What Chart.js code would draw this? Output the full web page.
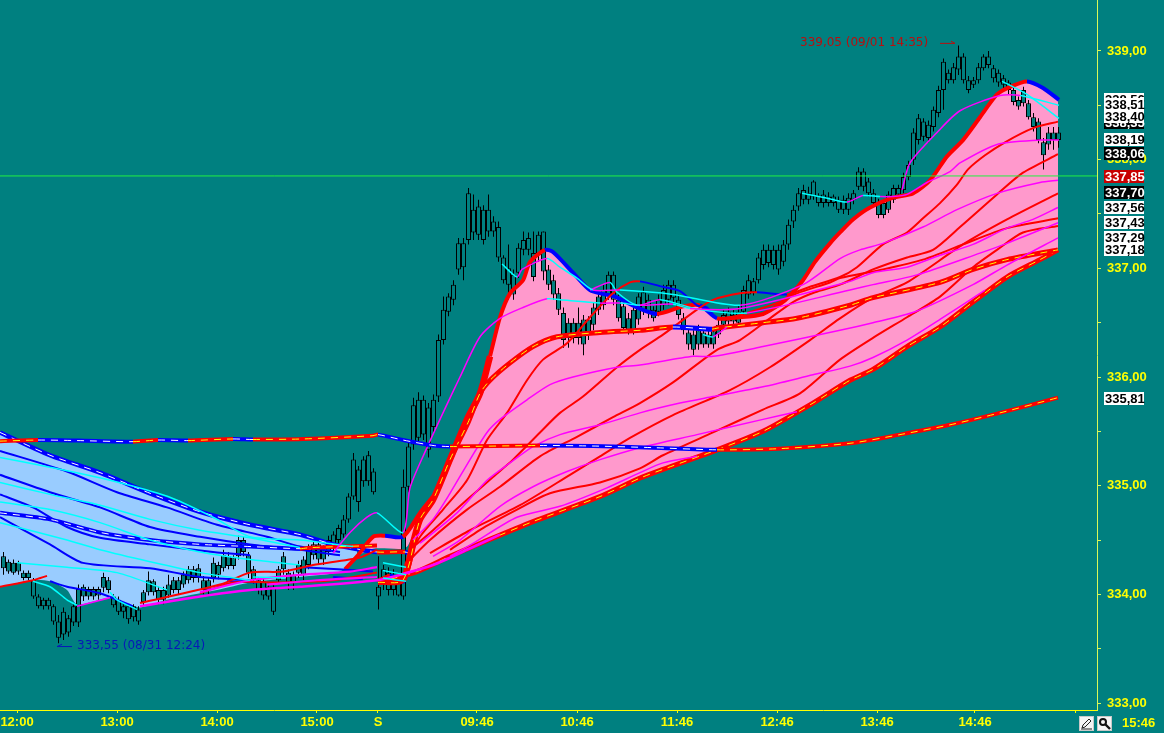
<!DOCTYPE html>
<html>
<head>
<meta charset="utf-8">
<title>Chart</title>
<script src="https://cdn.jsdelivr.net/npm/chart.js@4"></script>
<style>
  html, body { margin: 0; padding: 0; background: #008080; overflow: hidden; }
  #wrap { position: relative; width: 1164px; height: 733px; }
  .tool { position: absolute; top: 716px; width: 15px; height: 15px; background: #f4f4f4; border: 1px solid #c8c8c8; box-sizing: border-box; }
  .tool svg { display: block; }
</style>
</head>
<body>
<div id="wrap">
  <canvas id="chart" width="1164" height="733"></canvas>
  <div class="tool" style="left:1079px"><svg width="13" height="13" viewBox="0 0 13 13"><path d="M2 11 L3 8 L9 2 L11 4 L5 10 Z M1 12 H12" fill="none" stroke="#222" stroke-width="1"/></svg></div>
  <div class="tool" style="left:1097px"><svg width="13" height="13" viewBox="0 0 13 13"><circle cx="5" cy="5" r="3" fill="none" stroke="#111" stroke-width="2"/><path d="M7.5 7.5 L12 12" stroke="#111" stroke-width="2.4"/></svg></div>
</div>
<script>
// 3-minute bars, index 0 = first bar at the left edge
const bodyHigh = [
  334.35,334.30,334.29,334.29,334.20,334.20,334.13,333.98,333.95,333.95,
  333.89,333.75,333.84,333.78,333.89,334.05,334.07,334.05,334.05,334.05,
  334.16,334.13,333.98,333.95,333.89,333.89,333.89,333.86,334.02,334.13,
  334.12,334.04,334.04,334.09,334.13,334.13,334.18,334.23,334.23,334.24,
  334.13,334.13,334.29,334.27,334.36,334.35,334.34,334.50,334.50,334.36,
  334.23,334.13,334.12,334.07,334.07,334.23,334.35,334.20,334.18,334.27,
  334.32,334.41,334.46,334.46,334.41,334.50,334.55,334.61,334.69,334.90,
  335.24,335.15,335.24,335.28,335.13,334.07,334.23,334.20,334.18,334.15,
  334.99,335.36,335.74,335.79,335.79,335.72,335.79,336.34,336.62,336.74,
  336.85,337.23,337.23,337.69,337.54,337.57,337.54,337.54,337.43,337.38,
  337.10,337.00,336.94,337.19,337.26,337.28,337.14,337.31,337.34,336.99,
  336.89,336.77,336.59,336.50,336.50,336.50,336.53,336.53,336.64,336.74,
  336.80,336.94,336.94,336.71,336.65,336.54,336.62,336.74,336.78,336.71,
  336.62,336.71,336.80,336.85,336.85,336.71,336.54,336.41,336.39,336.43,
  336.41,336.39,336.42,336.48,336.57,336.60,336.57,336.60,336.80,336.89,
  336.88,337.10,337.17,337.17,337.17,337.17,337.22,337.40,337.54,337.69,
  337.72,337.69,337.80,337.67,337.68,337.66,337.66,337.63,337.63,337.65,
  337.69,337.89,337.89,337.80,337.69,337.60,337.60,337.68,337.74,337.74,
  337.84,337.95,338.25,338.38,338.35,338.32,338.46,338.64,338.90,338.80,
  338.85,338.95,338.95,338.73,338.73,338.85,338.95,338.95,338.84,338.80,
  338.75,338.71,338.64,338.55,338.64,338.52,338.39,338.35,338.16,338.25,338.25,338.25
];
const bodyLow = [
  334.24,334.21,334.20,334.21,334.15,334.15,333.98,333.89,333.89,333.89,
  333.75,333.60,333.63,333.65,333.74,333.74,333.98,333.98,333.98,333.99,
  334.06,334.04,333.90,333.84,333.84,333.77,333.79,333.75,333.93,334.02,
  334.02,333.95,333.95,333.99,334.04,334.04,334.09,334.13,334.15,334.15,
  334.04,334.04,334.15,334.18,334.24,334.26,334.26,334.35,334.39,334.20,
  334.13,334.04,333.99,333.98,333.84,334.13,334.23,334.11,334.11,334.20,
  334.18,334.27,334.36,334.32,334.32,334.39,334.43,334.50,334.55,334.69,
  334.90,334.85,335.04,335.04,334.94,333.98,334.09,334.04,334.04,333.99,
  333.98,334.99,335.38,335.44,335.47,335.33,335.54,335.82,336.34,336.60,
  336.71,336.99,337.01,337.26,337.33,337.31,337.26,337.34,337.34,337.10,
  336.89,336.85,336.76,336.96,337.17,337.17,336.92,337.12,336.97,336.85,
  336.76,336.62,336.34,336.36,336.36,336.36,336.30,336.39,336.48,336.62,
  336.66,336.76,336.71,336.54,336.45,336.43,336.43,336.53,336.62,336.59,
  336.54,336.60,336.66,336.71,336.73,336.57,336.43,336.30,336.25,336.30,
  336.30,336.30,336.30,336.39,336.48,336.51,336.51,336.50,336.60,336.76,
  336.78,336.89,337.03,337.05,337.03,336.99,337.06,337.22,337.43,337.57,
  337.63,337.63,337.66,337.60,337.60,337.60,337.60,337.54,337.54,337.54,
  337.63,337.75,337.75,337.69,337.60,337.49,337.49,337.54,337.63,337.68,
  337.72,337.84,338.00,338.18,338.21,338.20,338.30,338.43,338.64,338.73,
  338.73,338.83,338.73,338.64,338.69,338.73,338.84,338.87,338.75,338.71,
  338.69,338.64,338.53,338.49,338.52,338.39,338.30,338.18,338.04,338.14,338.18,338.18
];
const barHigh = [
  334.39,334.32,334.32,334.31,334.22,334.22,334.15,334.00,333.97,333.97,
  333.91,333.81,333.88,333.81,333.91,334.09,334.09,334.07,334.07,334.07,
  334.20,334.16,334.00,333.98,333.91,333.91,333.91,333.89,334.04,334.21,
  334.14,334.07,334.07,334.18,334.16,334.16,334.21,334.26,334.26,334.28,
  334.17,334.16,334.34,334.30,334.41,334.39,334.36,334.54,334.53,334.39,
  334.26,334.16,334.15,334.10,334.10,334.26,334.39,334.23,334.21,334.31,
  334.35,334.46,334.49,334.49,334.45,334.54,334.58,334.64,334.73,334.93,
  335.30,335.18,335.27,335.32,335.16,334.35,334.27,334.25,334.23,334.20,
  335.15,335.42,335.81,335.86,335.83,335.76,335.84,336.39,336.74,336.77,
  336.89,337.28,337.28,337.74,337.68,337.63,337.58,337.68,337.48,337.43,
  337.12,337.22,336.99,337.23,337.34,337.33,337.34,337.34,337.34,337.03,
  336.94,336.82,336.64,336.54,336.54,336.64,336.57,336.56,336.68,336.78,
  336.85,336.97,336.97,336.76,336.69,336.59,336.66,336.77,336.83,336.76,
  336.65,336.76,336.85,336.89,336.89,336.76,336.59,336.45,336.43,336.48,
  336.44,336.43,336.45,336.53,336.62,336.64,336.62,336.65,336.84,336.94,
  336.91,337.14,337.22,337.22,337.21,337.22,337.26,337.45,337.58,337.74,
  337.77,337.75,337.81,337.69,337.72,337.70,337.68,337.66,337.67,337.69,
  337.72,337.93,337.92,337.83,337.73,337.64,337.63,337.71,337.77,337.77,
  337.88,337.99,338.29,338.42,338.38,338.36,338.49,338.68,338.93,338.83,
  338.89,339.05,338.98,338.77,338.76,338.89,338.97,339.00,338.87,338.83,
  338.78,338.73,338.67,338.58,338.67,338.55,338.43,338.38,338.20,338.30,338.30,338.30
];
const barLow = [
  334.18,334.19,334.18,334.18,334.13,334.13,333.96,333.87,333.86,333.86,
  333.72,333.55,333.58,333.61,333.71,333.70,333.94,333.95,333.95,333.95,
  334.02,334.01,333.88,333.81,333.78,333.73,333.75,333.72,333.89,333.99,
  333.99,333.91,333.91,333.97,334.01,334.00,334.06,334.10,334.11,334.11,
  334.00,334.00,334.11,334.14,334.21,334.23,334.23,334.32,334.35,334.15,
  334.10,334.00,333.95,333.95,333.81,334.10,334.18,334.04,334.04,334.15,
  334.13,334.23,334.32,334.27,334.27,334.35,334.39,334.47,334.52,334.66,
  334.87,334.76,334.99,335.00,334.92,333.86,334.04,333.99,333.99,333.98,
  333.95,334.94,335.33,335.38,335.42,335.26,335.49,335.77,336.30,336.56,
  336.66,336.94,336.89,337.22,337.26,337.26,337.22,337.29,337.29,337.06,
  336.86,336.71,336.71,336.91,337.12,337.12,336.88,337.06,336.89,336.80,
  336.71,336.57,336.27,336.27,336.31,336.30,336.20,336.34,336.43,336.57,
  336.62,336.71,336.66,336.51,336.41,336.39,336.39,336.48,336.57,336.54,
  336.51,336.56,336.62,336.66,336.68,336.53,336.39,336.25,336.20,336.25,
  336.27,336.27,336.26,336.36,336.45,336.47,336.47,336.46,336.57,336.72,
  336.75,336.86,336.99,337.01,336.99,336.94,337.02,337.17,337.37,337.53,
  337.59,337.59,337.63,337.57,337.56,337.57,337.57,337.51,337.50,337.49,
  337.59,337.72,337.71,337.66,337.57,337.46,337.46,337.51,337.60,337.65,
  337.69,337.81,337.95,338.14,338.17,338.16,338.26,338.39,338.46,338.70,
  338.70,338.78,338.70,338.61,338.66,338.70,338.82,338.84,338.71,338.67,
  338.66,338.60,338.50,338.46,338.49,338.37,338.26,338.15,337.91,338.09,338.09,338.11
];

// moving averages as [bar, price] readings
const slowAvg = [[-0.6,335.41],[7,335.42],[15,335.415],[26,335.405],[31,335.42],[37,335.415],[46,335.43],[50,335.425],[60,335.43],[74,335.46],[75,335.47],[80,335.42],[86,335.37],[89.4,335.36],[107.4,335.37],[118,335.365],[130,335.35],[142.8,335.33],[155,335.34],[169.4,335.39],[179.4,335.47],[189.4,335.56],[199.4,335.67],[211,335.81]];

// session two, pink ribbon
const ribbonTop = [[75,334.11],[77.4,334.16],[80,334.13],[82,334.47],[83.4,334.69],[86,334.87],[89.4,335.24],[92.8,335.61],[95.4,335.85],[97.4,336.19],[99.4,336.55],[101.4,336.77],[104,336.89],[105.4,337.06],[108.4,337.17],[110,337.15],[114.4,336.94],[117.4,336.80],[120.4,336.76],[122.4,336.74],[126.8,336.64],[130.8,336.58],[136,336.65],[139.4,336.66],[142.8,336.54],[147.4,336.55],[152,336.58],[155.4,336.67],[157.4,336.75],[160,336.89],[162.4,337.06],[165.4,337.23],[167.4,337.33],[170,337.45],[173.4,337.56],[178,337.65],[182,337.69],[185.4,337.81],[188.8,338.03],[192,338.18],[195.4,338.39],[198.8,338.60],[201.4,338.67],[204.8,338.72],[208,338.66],[211.2,338.55]];
const ribbonBottom = [[75,334.11],[82.8,334.21],[89.4,334.35],[96,334.48],[106,334.67],[119.4,334.90],[127.4,335.07],[132,335.15],[142.8,335.33],[152,335.50],[162,335.76],[169.4,335.97],[174,336.07],[180.8,336.28],[187.4,336.46],[194,336.69],[200.8,336.92],[207.4,337.08],[211,337.17]];
const ribbonThick = [[75,334.11],[80,334.13],[83.4,334.69],[86,334.87],[89.4,335.24],[93,335.58],[95.4,335.85],[97.4,335.97],[101.4,336.13],[106,336.28],[110.8,336.37],[119.4,336.41],[127.4,336.43],[134,336.46],[141.8,336.44],[142.8,336.45],[152,336.50],[158.8,336.54],[169.4,336.66],[174,336.73],[187.4,336.87],[194,336.99],[200.8,337.08],[211,337.17]];
const wedgeTop = [[68.4,334.23],[71,334.36],[74,334.53],[76.4,334.54],[80,334.53],[83.4,334.75],[86,334.90]];
const wedgeBase = [[71,334.36],[74,334.42],[80,334.42],[81,334.45],[83,334.66],[86,334.90]];
const redB = [[80.4,334.27],[83.4,334.53],[88,334.78],[92.8,335.05],[96.8,335.42],[100.8,335.67],[104.8,335.97],[108,336.16],[112.8,336.31],[117.4,336.55],[122,336.77],[125.4,336.87],[127.4,336.88],[132,336.83],[135.4,336.79],[138.8,336.66],[140.8,336.64],[142.8,336.54],[145.4,336.55],[148.8,336.59],[155.4,336.69],[158.8,336.77],[165.4,336.87],[167.4,336.91],[176,336.99],[184,337.08],[192,337.22],[200.8,337.37],[211,337.46]];
const redA = [[81.4,334.41],[86,334.59],[92.8,334.87],[98,335.08],[102,335.24],[107.4,335.49],[111.4,335.67],[116,335.82],[122.8,336.09],[127.4,336.25],[132,336.39],[138.8,336.62],[142,336.71],[147.4,336.77],[150.8,336.78],[156.8,336.76],[161.4,336.83],[167.4,336.92],[170.8,337.01],[176,337.22],[180.8,337.33],[184,337.46],[187.4,337.60],[190.8,337.77],[193,337.91],[196.4,338.04],[200.4,338.16],[206,338.29],[211,338.35]];
const redC = [[81.4,334.32],[85.4,334.50],[92.8,334.78],[99.4,334.99],[107.4,335.27],[114.8,335.45],[122,335.63],[127.4,335.76],[134,335.95],[142.8,336.25],[147.4,336.34],[153.4,336.54],[158,336.69],[162.4,336.78],[167.4,336.85],[174,336.99],[180.8,337.10],[186,337.17],[191.4,337.38],[198.8,337.68],[204,337.88],[211,338.05]];
const redD = [[85.4,334.38],[93.4,334.59],[103.4,334.82],[113.4,335.10],[119.4,335.27],[125.4,335.44],[134,335.65],[145.4,335.88],[153.4,336.09],[161.4,336.34],[167.4,336.54],[174,336.73],[180.8,336.87],[192,337.22],[200.8,337.45],[211,337.69]];
const redE = [[89.4,334.41],[96,334.61],[102.8,334.78],[109.4,334.93],[119.4,335.03],[127.4,335.16],[132,335.28],[142,335.49],[152,335.70],[159.4,335.85],[167.4,336.16],[174,336.36],[180.8,336.55],[187.4,336.74],[194,337.01],[198.8,337.17],[204,337.33],[211,337.39]];

const thinA = [[99.8,337.04],[102.8,336.92],[103.8,336.99],[108.8,337.09],[111.4,337.01],[114.8,336.91],[118,336.80],[123.4,336.80],[134,336.76],[147.4,336.66],[160,336.85],[167.4,337.09],[171.4,337.17],[176,337.23],[184,337.38],[190.8,337.54],[198.8,337.69],[207.4,337.79],[211,337.81]];
const thinB = [[66,334.38],[69.4,334.57],[72.8,334.71],[74.8,334.75],[80,334.57],[81.4,334.98],[84.8,335.35],[88,335.67],[91.4,336.00],[95.4,336.37],[99.4,336.54],[104,336.64],[108.8,336.72],[111.4,336.71],[119.4,336.68],[123.4,336.68],[127.4,336.66],[134,336.67],[137.4,336.63],[147.4,336.63],[169.4,336.88],[174,336.96],[180.8,337.01],[187.4,337.12],[194,337.22],[200.8,337.37],[206,337.45],[211,337.56]];
const thinC = [[117.4,336.80],[121.4,336.87],[122.8,336.78],[126.8,336.66],[131.4,336.71],[139.4,336.62],[148.8,336.59],[169.4,336.80],[174,336.85],[182.8,336.94],[195.4,337.14],[200.8,337.23],[211,337.42]];
const thinD = [[82,334.50],[86,334.69],[89.4,334.93],[93.4,335.24],[96.8,335.49],[99.4,335.61],[104.8,335.79],[109.4,335.93],[114,336.00],[122.8,336.09],[127.4,336.11],[138,336.19],[142,336.19],[152,336.28],[167.4,336.43],[174,336.50],[182.4,336.60],[194,336.85],[200.8,337.03],[211,337.28]];
const thinE = [[83.4,334.47],[90.8,334.75],[96.8,335.05],[101.4,335.21],[106,335.36],[111.4,335.47],[119.4,335.56],[127.4,335.67],[135.4,335.76],[142,335.82],[152,335.91],[162,336.02],[169.4,336.10],[174,336.18],[180.8,336.34],[187.4,336.53],[196.4,336.80]];
const thinF = [[86,334.35],[91.4,334.50],[99.4,334.81],[106,334.99],[112.8,335.13],[119.4,335.24],[127.4,335.35],[138.8,335.47],[152,335.61],[158.8,335.68]];
const thinG = [[89.4,334.35],[94,334.47],[102.8,334.71],[111.4,334.81],[120.8,334.98],[127.4,335.12],[132,335.21],[138.8,335.27]];
const fastA = [[159.8,337.69],[164.4,337.65],[168.8,337.61],[172,337.67],[175.4,337.66],[178,337.66],[180.8,337.68],[184.8,337.79],[189.4,337.89],[191.4,337.97],[198.8,338.14],[207.4,338.18],[211.2,338.18]];
const fastB = [[179.8,337.72],[181.4,337.97],[186.8,338.25],[191.4,338.45],[199.4,338.59],[203.4,338.59],[211.2,338.50]];
const fastC = [[199.8,338.72],[202,338.67],[204.8,338.60],[211.2,338.38]];
const fastD = [[140,336.39],[142,336.37],[144.8,336.46]];

// session one, blue ribbon
const blueTop = [[-0.6,335.49],[9.4,335.28],[19.4,335.12],[29.4,334.93],[39.4,334.76],[49.4,334.64],[59.4,334.55],[66,334.46],[74.8,334.39],[80.4,334.39],[82,334.36]];
const blueEdge = [[-0.6,334.07],[6,334.13],[9.4,334.12],[12.8,334.04],[14.8,333.91],[21.4,333.97],[24.4,333.92],[27.4,333.88],[32.8,333.95],[42.8,334.04],[49.4,334.11],[59.4,334.16],[67.4,334.21],[70.8,334.36]];
const blueThick = [[-0.6,334.75],[9.4,334.69],[19.4,334.57],[29.4,334.50],[39.4,334.46],[49.4,334.44],[59.4,334.42],[61.4,334.43],[74.8,334.45]];
const blueB = [[-0.6,335.32],[12.8,335.13],[22.8,334.94],[32.8,334.80],[42.8,334.64],[52.8,334.53],[59.4,334.44],[67.4,334.39]];
const blueC = [[-0.6,335.10],[9.4,334.94],[19.4,334.80],[29.4,334.62],[39.4,334.53],[49.4,334.46],[59.4,334.41],[67.4,334.36]];
const blueD = [[-0.6,334.92],[6,334.80],[12.8,334.62],[19.4,334.52],[29.4,334.46],[42,334.39],[49.4,334.36]];
const blueE = [[-0.6,334.71],[9.4,334.46],[16,334.29],[29.4,334.24],[39.4,334.16],[49.4,334.13]];
const blueF = [[9.4,334.12],[12.8,334.07],[19.4,334.01],[26,333.89]];
const blueG = [[44.8,334.12],[50.8,334.11]];
const blueH = [[66,334.16],[72,334.14]];
const blueI = [[60,334.25],[74,334.21]];
const cyanA = [[-0.6,335.26],[9.4,335.17],[21.4,335.05],[33,334.90],[42,334.71],[49.4,334.53],[59.4,334.50],[70,334.44]];
const cyanB = [[-0.6,335.03],[9.4,334.92],[19.4,334.82],[29.4,334.69],[39.4,334.59],[49.4,334.52],[59.4,334.43]];
const cyanC = [[-0.6,334.85],[9.4,334.78],[19.4,334.66],[29.4,334.50],[39.4,334.39],[49.4,334.32],[59.4,334.27]];
const cyanD = [[-0.6,334.66],[12.8,334.50],[19.4,334.41],[29.4,334.30],[39.4,334.20],[49.4,334.13]];
const cyanE = [[2.8,334.29],[12.8,334.25],[22.8,334.20],[32.8,334.04]];
const cyanF = [[6,334.12],[9.4,334.07],[12.8,333.95],[14.8,333.90]];
const cyanG = [[21.4,334.02],[22.8,333.95],[26.8,333.86]];
const cyanH = [[50,334.16],[56.4,334.15]];
const cyanI = [[76,334.29],[80.6,334.25]];
const cyanJ = [[76,334.22],[80.6,334.18]];
const cyanK = [[76,334.15],[80.6,334.12]];
const lowRedA = [[-0.6,334.07],[6,334.13],[8.8,334.17]];
const lowRedB = [[27.4,333.92],[43.4,334.09],[49.4,334.20],[56,334.21],[62,334.27],[71.4,334.34],[74.8,334.41]];
const lowRedC = [[39.4,334.01],[46,334.11],[56,334.11],[66,334.13],[74.8,334.20]];
const lowPinkA = [[39.4,334.02],[49.4,334.13],[59.4,334.18],[69.4,334.21],[74.8,334.25]];
const lowPinkB = [[52.8,334.09],[62.8,334.13],[74.8,334.16]];
const lowPinkC = [[27.4,333.89],[39.4,333.98],[49.4,334.04],[59.4,334.07],[74.8,334.13],[79.4,334.18],[86,334.27],[92.8,334.41],[99.4,334.55]];
const lowPinkD = [[14.8,333.89],[21.4,333.97]];

const lastPrice = 337.85;
const highMark = [[187.4,339.07],[190.4,339.07],[189.6,339.09]];
const lowMark = [[13.8,333.52],[10.8,333.52],[11.8,333.54]];
const highNote = "339,05 (09/01 14:35)";
const lowNote = "333,55 (08/31 12:24)";

const yTickValues = [333,333.5,334,334.5,335,335.5,336,336.5,337,337.5,338,338.5,339];
const xTickBars = [2.8,22.8,42.8,62.8,75,94.8,114.8,134.8,154.8,174.8,194.4,214.4];
const xTickLabels = ["12:00","13:00","14:00","15:00","S","09:46","10:46","11:46","12:46","13:46","14:46",""];
const lastTimeLabel = "15:46";

// right-hand value tags, drawn in this order so later ones cover earlier ones
const tagValues = [338.56,338.51,338.35,338.40,338.19,338.06,337.85,337.70,337.56,337.43,337.29,337.18,335.81];
const darkTags = [338.35,338.06,337.70];

const TEAL = "#008080", YELLOW = "#ffff00", AXIS = "#d8f858";
const RED = "#ff0000", BLUE = "#0000ff", PINK = "#ff00ff", CYAN = "#00ffff";
const DARK_RED = "#b80f0f", DARK_BLUE = "#0818b8";
const CLEAR = "rgba(0,0,0,0)";
const LABEL_FONT = "bold 13px 'Liberation Sans'";
const CURVE = 0.25;

const fmtPrice = v => v.toFixed(2).replace(".", ",");

let nextOrder = 1;
// colour follows direction of the average: rising one colour, falling the other
function trendLine(data, up, down, width, extra) {
  return Object.assign({
    type: "line",
    data,
    order: nextOrder++,
    borderWidth: width,
    pointRadius: 0,
    tension: CURVE,
    fill: false,
    segment: { borderColor: c => (c.p1.parsed.y >= c.p0.parsed.y ? up : down) },
  }, extra || {});
}
function dashLine(data) {
  return trendLine(data, YELLOW, "#ffffff", 1, { borderDash: [7, 6] });
}
function plainLine(data, color, width, extra) {
  return Object.assign({
    type: "line",
    data,
    order: nextOrder++,
    borderColor: color,
    borderWidth: width,
    pointRadius: 0,
    fill: false,
  }, extra || {});
}
// invisible pair that only carries a fill, no segment styling so it paints in one piece
function fillPair(upper, lower, color) {
  return [
    plainLine(upper, CLEAR, 0, { tension: CURVE, fill: "+1", backgroundColor: color }),
    plainLine(lower, CLEAR, 0, { tension: CURVE }),
  ];
}
const thin = d => trendLine(d, PINK, CYAN, 1.5);
const thinBlue = d => trendLine(d, RED, BLUE, 2);
const thinRed = d => trendLine(d, RED, BLUE, 2);

// body and wick share the same shifted slot so their edges land on whole pixels
const candleBars = bodyHigh.map((h, i) => ({ x: i + 0.1, y: [bodyLow[i], h] }));
const wickBars = barHigh.map((h, i) => ({ x: i + 0.1, y: [barLow[i], h] }));

const datasets = [
  plainLine([[-0.6, lastPrice], [218.8, lastPrice]], "#20f040", 1),
  plainLine(highMark, DARK_RED, 1),
  plainLine(lowMark, DARK_BLUE, 1),
  dashLine(slowAvg),
  trendLine(slowAvg, RED, BLUE, 4),
  thin(thinA), thin(thinB), thin(thinC), thin(thinD), thin(thinE), thin(thinF), thin(thinG),
  thin(fastA), thin(fastB), thin(fastC), thin(fastD),
  thin(cyanA), thin(cyanB), thin(cyanC), thin(cyanD), thin(cyanE), thin(cyanF), thin(cyanG),
  thin(cyanH), thin(cyanI), thin(cyanJ), thin(cyanK),
  trendLine(lowPinkC, PINK, CYAN, 2.6), trendLine(lowPinkA, PINK, CYAN, 2.2),
  trendLine(lowPinkB, PINK, CYAN, 2.2), trendLine(lowPinkD, PINK, CYAN, 1.6),
  thinRed(lowRedA), thinRed(lowRedB), thinRed(lowRedC),
  dashLine(ribbonThick),
  trendLine(ribbonThick, RED, BLUE, 5),
  dashLine(ribbonBottom),
  trendLine(ribbonBottom, RED, BLUE, 5),
  thinRed(redA), thinRed(redB), thinRed(redC), thinRed(redD), thinRed(redE),
  dashLine(blueThick),
  trendLine(blueThick, RED, BLUE, 4),
  thinBlue(blueB), thinBlue(blueC), thinBlue(blueD), thinBlue(blueE), thinBlue(blueF),
  thinBlue(blueG), thinBlue(blueH), thinBlue(blueI),
  trendLine(ribbonTop, RED, BLUE, 4.5, {
    segment: {
      borderColor: c => (c.p1.parsed.y >= c.p0.parsed.y ? RED : BLUE),
      borderWidth: c => (c.p1.parsed.x < 99 ? 6.5 : 4),
    },
  }),
  trendLine(wedgeTop, RED, BLUE, 4),
  dashLine(blueTop),
  trendLine(blueTop, RED, BLUE, 4.5),
  ...fillPair(ribbonTop, ribbonBottom, "#ff99cc"),
  ...fillPair(wedgeTop, wedgeBase, "#ff99cc"),
  ...fillPair(blueTop, blueEdge, "#99ccff"),
  {
    type: "bar", data: candleBars, order: 500, barThickness: 5, grouped: false,
    backgroundColor: TEAL, borderColor: "#000000", borderWidth: 1, borderSkipped: false, inflateAmount: 0,
  },
  {
    type: "bar", data: wickBars, order: 501, barThickness: 1, grouped: false,
    backgroundColor: "#000000", borderWidth: 0, inflateAmount: 0,
  },
];

// notes, time label next to the tool buttons, and the value tags at the right
const overlayText = {
  id: "overlayText",
  afterDraw(chart) {
    const ctx = chart.ctx, y = chart.scales.y;
    ctx.save();
    ctx.textBaseline = "middle";
    ctx.textAlign = "left";

    ctx.font = "12px 'DejaVu Sans'";
    ctx.fillStyle = DARK_RED;
    ctx.fillText(highNote, 800, y.getPixelForValue(339.05) - 3);
    ctx.fillStyle = DARK_BLUE;
    ctx.fillText(lowNote, 77, y.getPixelForValue(333.55) + 3);

    ctx.font = LABEL_FONT;
    ctx.fillStyle = YELLOW;
    ctx.fillText(lastTimeLabel, 1122, chart.chartArea.bottom + 13);

    tagValues.forEach(v => {
      const py = Math.round(y.getPixelForValue(v));
      const isLast = v === lastPrice;
      const isDark = darkTags.includes(v);
      ctx.fillStyle = isLast ? "#c80000" : isDark ? "#000000" : "#ffffff";
      ctx.fillRect(1104, py - 6, 40, 13);
      ctx.fillStyle = isLast || isDark ? "#ffffff" : "#000000";
      ctx.fillText(fmtPrice(v), 1105, py + 1);
    });
    ctx.restore();
  },
};

// the scales would otherwise reserve room for half a label at the plot edges
function noEdgePadding(s) {
  s.paddingLeft = s.paddingRight = s.paddingTop = s.paddingBottom = 0;
}

new Chart(document.getElementById("chart"), {
  type: "bar",
  data: { datasets },
  plugins: [overlayText],
  options: {
    responsive: false,
    animation: false,
    events: [],
    layout: { padding: 0, autoPadding: false },
    plugins: {
      legend: { display: false },
      tooltip: { enabled: false },
      filler: { drawTime: "beforeDatasetsDraw" },
    },
    scales: {
      x: {
        type: "linear",
        min: -0.6,
        max: 218.8,
        offset: false,
        border: { color: YELLOW, width: 1 },
        grid: { drawOnChartArea: false, tickLength: 3, tickColor: YELLOW, offset: false },
        afterBuildTicks: s => { s.ticks = xTickBars.map(value => ({ value })); },
        afterFit: s => { s.height = 23; noEdgePadding(s); },
        ticks: {
          autoSkip: false,
          maxRotation: 0,
          padding: 2,
          color: YELLOW,
          font: { family: "Liberation Sans", size: 13, weight: "bold" },
          callback: (v, i) => xTickLabels[i],
        },
      },
      y: {
        position: "right",
        min: 332.936,
        max: 339.469,
        border: { color: AXIS, width: 1 },
        grid: { drawOnChartArea: false, tickLength: 4, tickColor: AXIS },
        afterBuildTicks: s => { s.ticks = yTickValues.map(value => ({ value })); },
        afterFit: s => { s.width = 67; noEdgePadding(s); },
        ticks: {
          autoSkip: false,
          padding: 6,
          color: YELLOW,
          font: { family: "Liberation Sans", size: 13, weight: "bold" },
          callback: v => (Number.isInteger(v) ? fmtPrice(v) : ""),
        },
      },
    },
  },
});
</script>
</body>
</html>
